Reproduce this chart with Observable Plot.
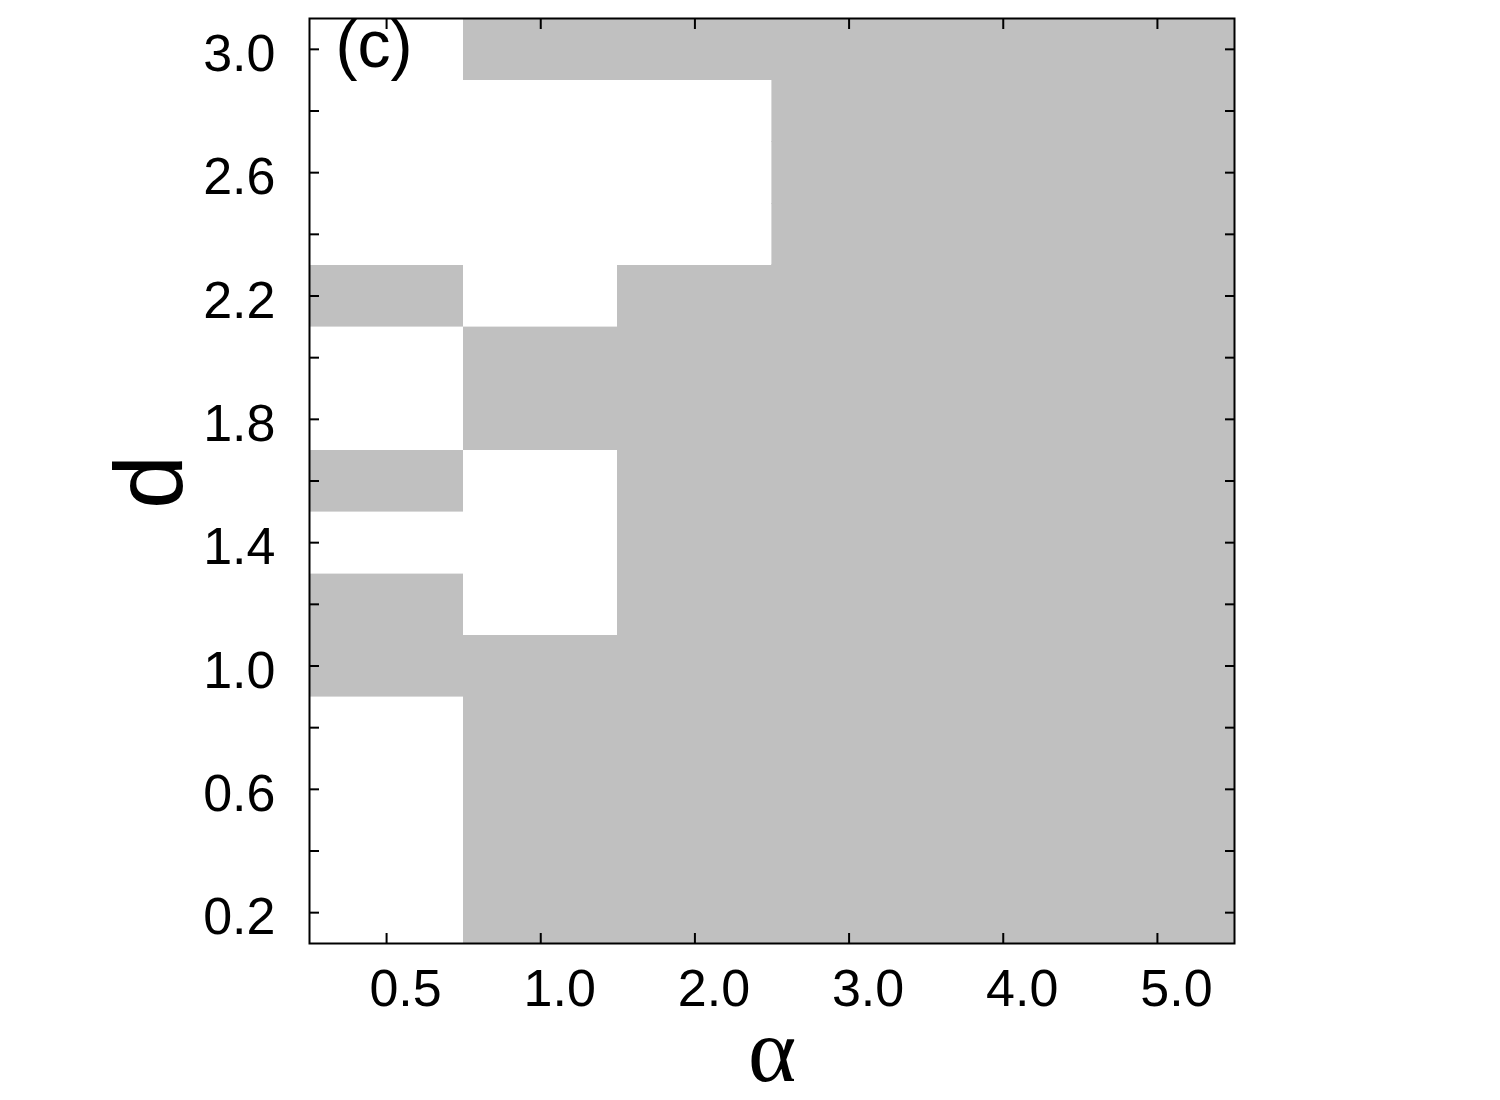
<!DOCTYPE html>
<html><head><meta charset="utf-8">
<script src="https://cdn.jsdelivr.net/npm/d3@7"></script>
<script src="https://cdn.jsdelivr.net/npm/@observablehq/plot@0.6"></script>
<style>body{margin:0;background:#fff}</style>
</head><body><div id="chart"></div>
<script>
// categories (alpha) and d values
const alphas = ["0.5", "1.0", "2.0", "3.0", "4.0", "5.0"];
const dValues = [0.2, 0.4, 0.6, 0.8, 1.0, 1.2, 1.4, 1.6, 1.8, 2.0, 2.2, 2.4, 2.6, 2.8, 3.0];
const yLabelTicks = [0.2, 0.6, 1.0, 1.4, 1.8, 2.2, 2.6, 3.0];
// state per alpha column (1 = grey region, 0 = white), d from 0.2 to 3.0
const stateA05 = [0, 0, 0, 0, 1, 1, 0, 1, 0, 0, 1, 0, 0, 0, 0];
const stateA10 = [1, 1, 1, 1, 1, 0, 0, 0, 1, 1, 0, 0, 0, 0, 1];
const stateA20 = [1, 1, 1, 1, 1, 1, 1, 1, 1, 1, 1, 0, 0, 0, 1];
const stateA30 = [1, 1, 1, 1, 1, 1, 1, 1, 1, 1, 1, 1, 1, 1, 1];
const stateA40 = [1, 1, 1, 1, 1, 1, 1, 1, 1, 1, 1, 1, 1, 1, 1];
const stateA50 = [1, 1, 1, 1, 1, 1, 1, 1, 1, 1, 1, 1, 1, 1, 1];
const states = [stateA05, stateA10, stateA20, stateA30, stateA40, stateA50];

const cells = alphas.flatMap((a, i) => dValues.map((d, j) => ({alpha: a, d, v: states[i][j]})));

const chart = Plot.plot({
  width: 1500, height: 1100,
  marginLeft: 309, marginRight: 266, marginTop: 18, marginBottom: 157,
  style: {fontFamily: "'Liberation Sans', Arial, sans-serif", fontSize: "52px", background: "white", color: "black"},
  x: {type: "band", domain: alphas, padding: 0, round: false},
  y: {type: "band", domain: dValues.slice().reverse(), padding: 0, round: false},
  color: {type: "ordinal", domain: [0, 1], range: ["white", "#c0c0c0"]},
  marks: [
    Plot.cell(cells, {x: "alpha", y: "d", fill: "v", stroke: "v", strokeWidth: 0.6, inset: 0, shapeRendering: "crispEdges"}),
    // tick marks (inward) on all four sides
    Plot.axisX({anchor: "bottom", tickSize: -10, strokeWidth: 2, tickFormat: () => "", label: null}),
    Plot.axisX({anchor: "top", tickSize: -10, strokeWidth: 2, tickFormat: () => "", label: null}),
    Plot.axisY({anchor: "left", ticks: dValues, tickSize: -10, strokeWidth: 2, tickFormat: () => "", label: null}),
    Plot.axisY({anchor: "right", ticks: dValues, tickSize: -10, strokeWidth: 2, tickFormat: () => "", label: null}),
    // tick labels
    Plot.axisX({anchor: "bottom", tickSize: 0, tickPadding: 26, dx: 19, label: null, fontSize: 52}),
    Plot.axisY({anchor: "left", ticks: dValues, tickSize: 0, tickPadding: 34, dy: 5, label: null, fontSize: 52,
      tickFormat: d => yLabelTicks.includes(d) ? d.toFixed(1) : ""}),
    Plot.frame({stroke: "black", strokeWidth: 2}),
    Plot.text(["(c)"], {frameAnchor: "top-left", dx: 26, dy: 2, lineAnchor: "top", textAnchor: "start", fontSize: 66}),
    Plot.text(["d"], {frameAnchor: "left", dx: -159, dy: 28, rotate: -90, fontSize: 97}),
    Plot.text(["α"], {frameAnchor: "bottom", lineAnchor: "bottom", dy: 137, fontSize: 92, fontFamily: "'Liberation Serif', 'Times New Roman', serif"})
  ]
});
document.getElementById("chart").appendChild(chart);
</script>
</body></html>
